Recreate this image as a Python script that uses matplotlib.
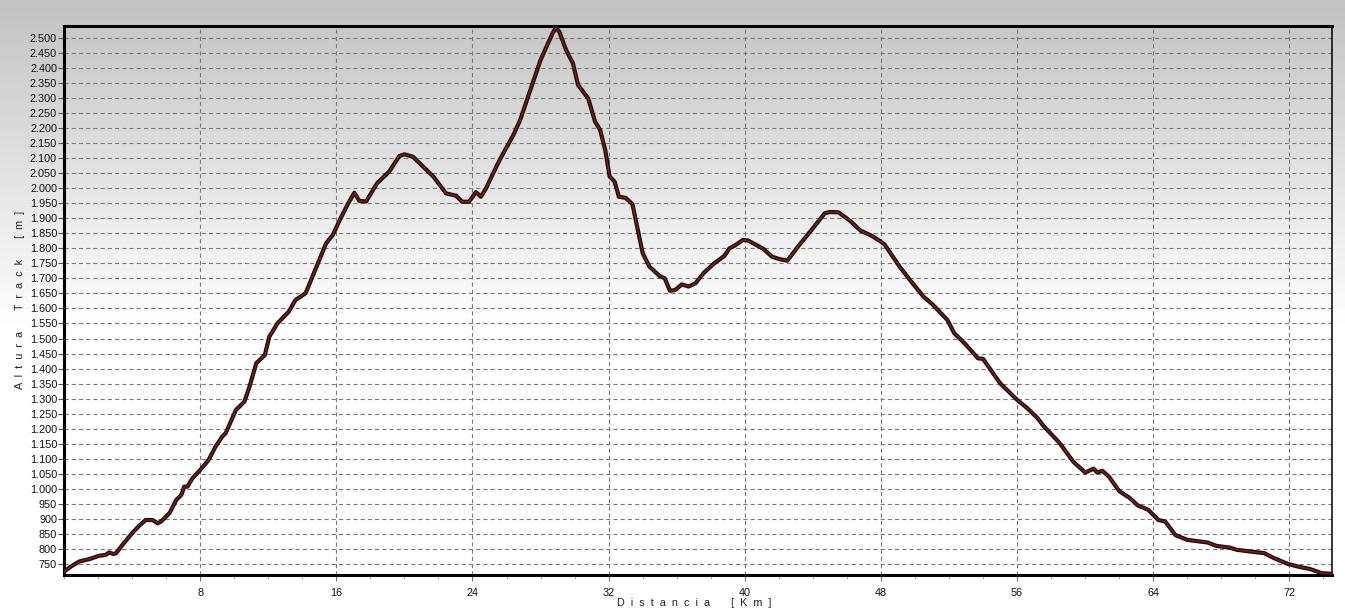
import numpy as np
import matplotlib
matplotlib.use("Agg")
import matplotlib.pyplot as plt
from matplotlib.ticker import FuncFormatter, MultipleLocator

plt.rcParams['font.family'] = ['Liberation Sans', 'DejaVu Sans']
plt.rcParams['lines.scale_dashes'] = False

# Distance (km) and altitude (m) read from the profile
distance_km = [0.0, 0.4, 0.9, 1.5, 2.06, 2.45, 2.65, 2.9, 3.05, 3.43, 4.0, 4.4, 4.8, 5.2, 5.5, 5.7,
               6.2, 6.6, 6.9, 7.06, 7.25, 7.55, 8.04, 8.5, 8.9, 9.3, 9.5, 10.1, 10.6, 10.9, 11.3,
               11.8, 12.06, 12.55, 13.2, 13.6, 14.2, 14.8, 15.4, 15.8, 16.2, 16.7, 17.06, 17.35,
               17.75, 18.4, 19.1, 19.7, 20.0, 20.5, 21.7, 22.45, 23.04, 23.4, 23.8, 24.2, 24.5,
               24.8, 25.4, 25.7, 26.4, 26.8, 27.5, 28.0, 28.7, 28.9, 29.1, 29.5, 29.9, 30.2, 30.8,
               31.2, 31.5, 31.8, 32.06, 32.35, 32.6, 33.0, 33.4, 33.7, 34.0, 34.4, 35.0, 35.3,
               35.6, 35.9, 36.3, 36.7, 37.1, 37.6, 38.2, 38.8, 39.1, 39.4, 39.9, 40.2, 41.1, 41.6,
               42.06, 42.5, 43.1, 44.0, 44.7, 45.0, 45.5, 46.2, 46.8, 47.45, 47.9, 48.2, 49.1,
               49.7, 50.5, 51.0, 51.9, 52.3, 53.0, 53.7, 54.0, 55.0, 56.0, 56.6, 57.2, 57.55, 58.5,
               59.3, 60.0, 60.5, 60.7, 61.0, 61.4, 62.0, 62.6, 63.1, 63.7, 64.3, 64.7, 65.3, 66.0,
               67.2, 67.7, 68.5, 68.9, 69.7, 70.5, 71.1, 71.9, 72.5, 73.2, 73.9, 74.5]
altitude_m = [724, 741, 758, 766, 777, 780, 788, 783, 785, 813, 852, 876, 896, 896, 885, 891,
              919, 963, 980, 1007, 1007, 1035, 1065, 1096, 1140, 1174, 1185, 1262, 1290, 1340, 1418,
              1445, 1506, 1551, 1589, 1628, 1651, 1734, 1817, 1845, 1894, 1950, 1985, 1958,
              1956, 2017, 2055, 2107, 2113, 2105, 2039, 1983, 1975, 1955, 1955, 1987, 1972,
              2000, 2072, 2105, 2177, 2227, 2344, 2427, 2515, 2535, 2521, 2460, 2416, 2344, 2299,
              2222, 2194, 2127, 2039, 2022, 1972, 1968, 1947, 1865, 1784, 1739, 1708, 1700,
              1659, 1661, 1680, 1673, 1684, 1719, 1750, 1775, 1800, 1809, 1828, 1826, 1798, 1772,
              1764, 1759, 1804, 1867, 1917, 1921, 1920, 1891, 1859, 1842, 1826, 1814, 1739,
              1695, 1639, 1615, 1562, 1518, 1479, 1434, 1432, 1351, 1296, 1268, 1235, 1209, 1152,
              1090, 1054, 1067, 1054, 1060, 1040, 992, 970, 944, 930, 896, 891, 846, 830,
              821, 810, 804, 797, 791, 786, 769, 750, 741, 733, 719, 717]

x_ticks = [8, 16, 24, 32, 40, 48, 56, 64, 72]
y_ticks = list(range(750, 2501, 50))
x_label = "Distancia [Km]"
y_label = "Altura Track [m]"


def spaced(s):
    return "  ".join(list(s)).replace("    ", "      ")


W, H = 1345, 610
fig = plt.figure(figsize=(W / 100, H / 100), dpi=100)

# background gradient
bg = fig.add_axes([0, 0, 1, 1])
rows = np.arange(H)
vals = np.clip(194 + (255 - 194) * rows / 330.0, 0, 255) / 255.0
grad = np.repeat(vals[:, None], 2, axis=1)
bg.imshow(grad, cmap='gray', vmin=0, vmax=1, aspect='auto', extent=[0, 1, 0, 1], origin='upper')
bg.set_axis_off()
bg.set_zorder(-10)

left, right, top, bottom = 64, 1332, 26, 575
ax = fig.add_axes([left / W, 1 - bottom / H, (right - left) / W, (bottom - top) / H])
ax.set_facecolor('none')

ax.plot(distance_km, altitude_m, color='#111111', lw=3.0, solid_joinstyle='round', zorder=3)
ax.plot(distance_km, altitude_m, color='#8a1515', lw=1.1, solid_joinstyle='round', zorder=4)

ax.set_xlim(0, 74.5)
ax.set_ylim(713, 2540)
ax.set_xticks(x_ticks)
ax.xaxis.set_minor_locator(MultipleLocator(2))
ax.set_yticks(y_ticks)
ax.yaxis.set_major_formatter(FuncFormatter(lambda v, p: f"{int(v):,}".replace(",", ".")))

ax.grid(True, which='major', color='#7a7a7a', lw=0.8, linestyle=(0, (3.0, 2.2)), zorder=1)
ax.tick_params(axis='y', which='major', length=4, width=0.8, color='#555555', pad=1,
               labelsize=7.8, labelcolor='#111111')
ax.tick_params(axis='x', which='major', length=4, width=0.8, color='#777777', pad=5,
               labelsize=7.8, labelcolor='#111111')
ax.tick_params(axis='x', which='minor', length=3, width=0.6, color='#999999')

for s in ['left', 'bottom', 'top']:
    ax.spines[s].set_linewidth(2.2)
    ax.spines[s].set_color('black')
ax.spines['right'].set_linewidth(1.1)
ax.spines['right'].set_color('black')

fig.text(694 / W, 1 - 603 / H, spaced(x_label), ha='center', va='center', fontsize=7.8,
         color='#222222')
fig.text(20 / W, 1 - 300 / H, spaced(y_label), ha='center', va='center', rotation=90,
         fontsize=7.8, color='#222222')

fig.savefig("out.png", dpi=100)
